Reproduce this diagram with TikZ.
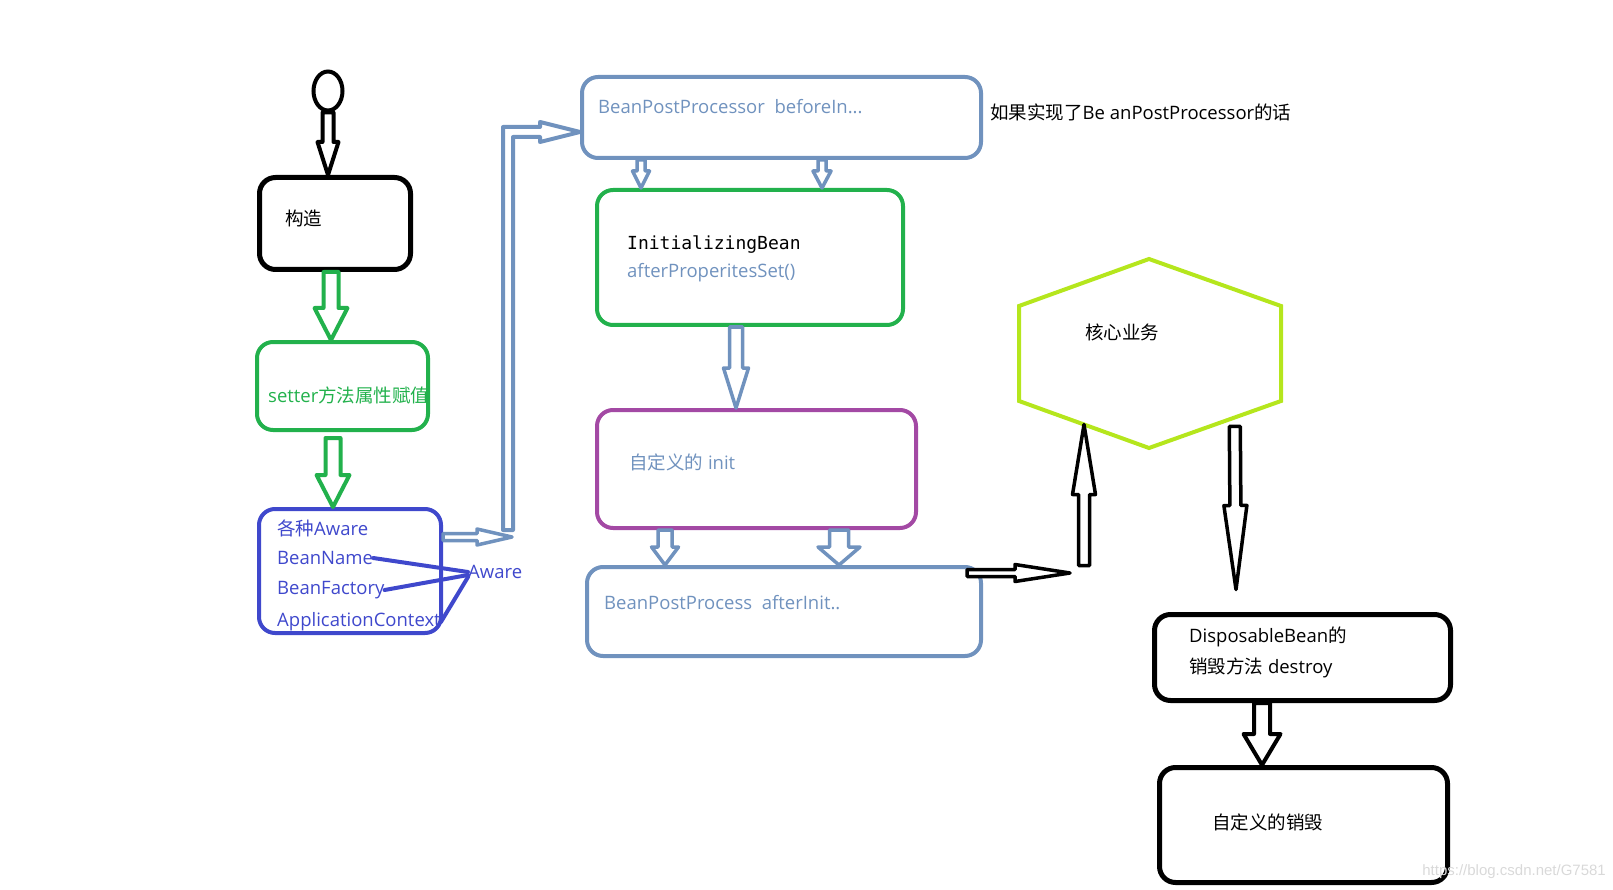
\documentclass[tikz,border=0pt]{standalone}
\usepackage{fontspec}
\setmainfont{Open Sans}
\newfontfamily\cjk{Noto Sans CJK SC}
\newfontfamily\monof{DejaVu Sans Mono}
\newfontfamily\wmfont{Liberation Sans}
\usetikzlibrary{calc,shapes.geometric}
\definecolor{steel}{HTML}{7092BE}
\definecolor{grn}{HTML}{22B14C}
\definecolor{indig}{HTML}{3F48CC}
\definecolor{purp}{HTML}{A349A4}
\definecolor{lime}{HTML}{B5E61D}

% hollow arrow: [opts]{from}{to}{stem half width}{head half width}{head length}
\newcommand{\fatarrow}[6][]{%
  \path (#2) coordinate (fa-s) (#3) coordinate (fa-t);
  \coordinate (fa-h) at ($(fa-t)!#6!(fa-s)$);
  \draw[fat,#1,fill=white] ($(fa-s)!#4!90:(fa-t)$) -- ($(fa-h)!#4!90:(fa-t)$)
    -- ($(fa-h)!#5!90:(fa-t)$) -- (fa-t) -- ($(fa-h)!#5!-90:(fa-t)$)
    -- ($(fa-h)!#4!-90:(fa-t)$) -- ($(fa-s)!#4!-90:(fa-t)$) -- cycle;
}

\begin{document}
\begin{tikzpicture}[x=1pt,y=1pt]
                  \tikzstyle{every node}+=[inner sep=0pt]
                  \tikzstyle{box}=[draw, rounded corners=16pt, line width=4pt]
                  \tikzstyle{fat}=[line width=3.5pt, line join=round]
                  \tikzstyle{txt}=[anchor=west, font=\fontsize{18.5}{22}\selectfont]
                  \useasboundingbox (0,0) rectangle (1613,-890);
                  % boxes
                  \node[ellipse, draw, line width=4pt, minimum width=29pt, minimum height=39pt] (start) at (328,-91) {};
                  \node[box, line width=5pt, minimum width=151pt, minimum height=92pt] (ctor) at (335,-223.5) {};
                  \node[box, grn, minimum width=171pt, minimum height=88pt] (setter) at (342.5,-386) {};
                  \node[box, indig, minimum width=182pt, minimum height=124pt] (aware) at (350,-571) {};
                  \node[box, steel, minimum width=399pt, minimum height=81pt] (bpp) at (781.5,-117.5) {};
                  \node[box, grn, minimum width=306pt, minimum height=135pt] (init) at (750,-257.5) {};
                  \node[box, purp, minimum width=319pt, minimum height=118pt] (cinit) at (756.5,-469) {};
                  \node[box, steel, minimum width=394pt, minimum height=89pt] (after) at (784,-611.5) {};
                  \node[box, line width=5pt, minimum width=296pt, minimum height=86pt] (disp) at (1302.5,-657.5) {};
                  \node[box, line width=5pt, minimum width=288pt, minimum height=115pt] (cdestroy) at (1303.5,-825) {};
                  \draw[lime, line width=4pt] (1149,-259) coordinate (hx1) -- (1281,-306) coordinate (hx2)
                    -- (1281,-401) coordinate (hx3) -- (1149,-448) coordinate (hx4)
                    -- (1019,-401) coordinate (hx5) -- (1019,-306) coordinate (hx6) -- cycle;
                  % texts
                  \node[txt] (tctor) at (285,-218) {\cjk 构造};
                  \node[txt, grn] (tsetter) at (268,-395) {setter{\cjk 方法属性赋值}};
                  \node[txt, indig] (tkinds) at (277,-528) {{\cjk 各种}Aware};
                  \node[txt, indig] (tname) at (277,-558) {BeanName};
                  \node[txt, indig] (tfact) at (277,-590) {BeanFactory};
                  \node[txt, indig] (tctx) at (277,-622) {ApplicationContext};
                  \node[txt, indig] (taware) at (468,-572) {Aware};
                  \node[txt, steel] (tbpp) at (598,-107) {BeanPostProcessor\ \ beforeIn...};
                  \node[txt] (tnote) at (990,-112) {{\cjk 如果实现了}Be anPostProcessor{\cjk 的话}};
                  \node[txt, font=\fontsize{18}{22}\selectfont\monof] (tinit) at (627,-245) {InitializingBean};
                  \node[txt, steel] (tprops) at (627,-273) {afterProperitesSet()};
                  \node[txt, steel] (tcinit) at (629,-462) {{\cjk 自定义的} init};
                  \node[txt, steel] (tafter) at (604,-603) {BeanPostProcess\ \ afterInit..};
                  \node[txt] (tcore) at (1085,-332) {\cjk 核心业务};
                  \node[txt] (tdisp1) at (1189,-637) {DisposableBean{\cjk 的}};
                  \node[txt] (tdisp2) at (1189,-668) {{\cjk 销毁方法} destroy};
                  \node[txt] (tcdes) at (1212,-822) {\cjk 自定义的销毁};
                  % aware lines
                  \draw[indig, line width=4pt, line cap=round] (tname.east) -- (taware.west);
                  \draw[indig, line width=4pt, line cap=round] (tfact.east) -- ([yshift=-3pt]taware.west);
                  \draw[indig, line width=4pt, line cap=round] (tctx.east) -- ([yshift=-5pt]taware.west);
                  % arrows
                  \fatarrow[black, line width=4pt]{start.south}{start.south |- ctor.north}{5.5pt}{10.5pt}{33pt}
                  \fatarrow[grn, line width=4pt]{$(ctor.south)+(-4,0)$}{$(setter.north)+(-11.5,0)$}{7.5pt}{16.5pt}{32pt}
                  \fatarrow[grn, line width=4pt]{$(setter.south)+(-9.5,-6)$}{$(aware.north)+(-17,0)$}{7.5pt}{16.5pt}{32pt}
                  \coordinate (k1) at ($(aware.east)+(69,34)$);
                  \fatarrow[steel, line width=3.5pt]{$(aware.east)+(0,34)$}{k1}{3.5pt}{8pt}{35pt}
                  \coordinate (k2) at ($(k1)+(-4,7)$);
                  \coordinate (k3) at ($(bpp.west)+(0,-14.5)$);
                  \draw[fat, steel, line width=4pt, fill=white] ($(k2)+(-5,0)$) |- ($(k3)+(-40,5)$) -- ++(0,5) -- (k3)
                    -- ($(k3)+(-40,-10)$) -- ++(0,5) -| ($(k2)+(5,0)$) -- cycle;
                  \fatarrow[steel, line width=3.5pt]{$(bpp.south west)+(61,0)$}{$(init.north west)+(46,0)$}{4pt}{8.5pt}{17pt}
                  \fatarrow[steel, line width=3.5pt]{$(bpp.south west)+(242,0)$}{$(init.north west)+(227,0)$}{4pt}{9pt}{17pt}
                  \fatarrow[steel, line width=3.5pt]{$(init.south)+(-14,0)$}{$(cinit.north)+(-20.5,0)$}{6.5pt}{12.5pt}{40pt}
                  \fatarrow[steel, line width=3.5pt]{$(cinit.south west)+(70,0)$}{$(after.north west)+(80,0)$}{7pt}{13.5pt}{18pt}
                  \fatarrow[steel, line width=3.5pt]{$(cinit.south west)+(244,0)$}{$(after.north west)+(254,0)$}{9.5pt}{21pt}{18pt}
                  \coordinate (j1) at (1070,-573);
                  \fatarrow[black, line width=3.5pt]{$(after.east)+(-16,38.5)$}{j1}{3.5pt}{8.5pt}{55pt}
                  \coordinate (hin) at ($(hx5)!.5!(hx4)$);
                  \fatarrow[black, line width=3.5pt]{$(hin)+(0,-141)$}{hin}{5.5pt}{11.5pt}{70pt}
                  \coordinate (hout) at ($(hx4)!.65!(hx3)$);
                  \fatarrow[black, line width=3.5pt]{$(hout)+(0,-9)$}{$(disp.north)+(-66.5,22.5)$}{5.5pt}{11.5pt}{84pt}
                  \fatarrow[black, line width=4pt]{$(disp.south)+(-40.5,0)$}{$(cdestroy.north)+(-41.5,0)$}{8pt}{18.5pt}{31pt}
                  % watermark
                  \node[anchor=east, font=\wmfont\fontsize{15}{18}\selectfont, color=black!15] (wm) at (1606,-872) {https://blog.csdn.net/G7581};
              \end{tikzpicture}
\end{document}
